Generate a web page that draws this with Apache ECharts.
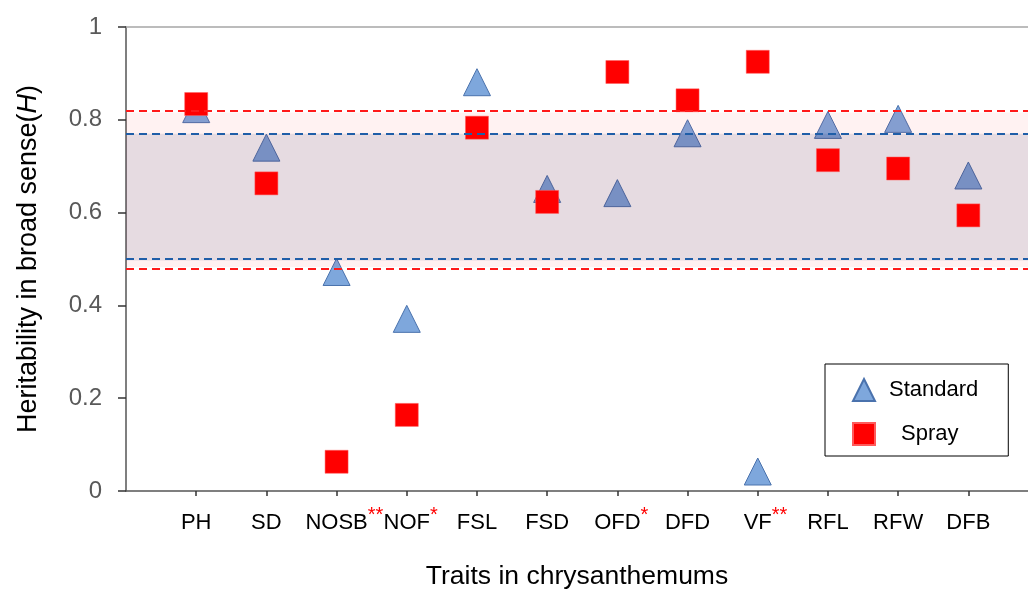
<!DOCTYPE html>
<html>
<head>
<meta charset="utf-8">
<script src="https://cdn.jsdelivr.net/npm/echarts@6/dist/echarts.min.js"></script>
<style>
html,body{margin:0;padding:0;background:#fff;}
#c{width:1028px;height:589px;}
</style>
</head>
<body>
<div id="c"></div>
<script>
const categories = ['PH','SD','NOSB','NOF','FSL','FSD','OFD','DFD','VF','RFL','RFW','DFB'];
const significance = ['','','**','*','','','*','','**','','',''];
const standardValues = [0.823, 0.740, 0.472, 0.371, 0.881, 0.651, 0.642, 0.771, 0.042, 0.789, 0.802, 0.680];
const sprayValues = [0.834, 0.663, 0.063, 0.164, 0.783, 0.623, 0.903, 0.842, 0.925, 0.713, 0.695, 0.594];
const standardRange = [0.497, 0.770];
const sprayRange = [0.483, 0.816];
const yTicks = [0, 0.2, 0.4, 0.6, 0.8, 1];

const FONT = '"Liberation Sans", Arial, sans-serif';
const chart = echarts.init(document.getElementById('c'), null, {renderer: 'canvas'});

const standardData = standardValues.map((v, i) => [i + 1, v]);
const sprayData = sprayValues.map((v, i) => [i + 1, v]);

const dashRed = {color: '#ff1a1a', width: 2, type: [8, 5]};
const dashBlue = {color: '#1f5ea8', width: 2, type: [8, 5]};

const option = {
  animation: false,
  backgroundColor: '#ffffff',
  textStyle: {fontFamily: FONT},
  grid: {left: 126, top: 27, right: 0, bottom: 98, containLabel: false, outerBoundsMode: 'none'},
  legend: {
    data: ['Standard', 'Spray'],
    orient: 'vertical',
    left: 825,
    top: 364,
    itemWidth: 22,
    itemHeight: 22,
    itemGap: 20,
    padding: [14, 30, 10, 27],
    borderColor: '#000',
    borderWidth: 1,
    formatter: function (name) {
      return name === 'Standard' ? '{a|' + name + '}' : '{b|' + name + '}';
    },
    textStyle: {
      fontFamily: FONT, fontSize: 22, color: '#000',
      rich: {
        a: {fontFamily: FONT, fontSize: 22, color: '#000', padding: [0, 0, 0, 9]},
        b: {fontFamily: FONT, fontSize: 22, color: '#000', padding: [0, 0, 0, 21]}
      }
    }
  },
  xAxis: [{
    type: 'value',
    min: 0,
    max: 12.85,
    interval: 1,
    name: 'Traits in chrysanthemums',
    nameLocation: 'middle',
    nameGap: 72,
    nameTextStyle: {fontFamily: FONT, fontSize: 26.5, color: '#000'},
    axisLine: {show: true, onZero: false, lineStyle: {color: '#555', width: 1.5}},
    axisTick: {show: true, length: 5, lineStyle: {color: '#333', width: 1.5}},
    splitLine: {show: false},
    axisLabel: {
      show: true,
      margin: 15,
      showMaxLabel: false,
      showMinLabel: false,
      formatter: function (v) {
        const k = Math.round(v);
        if (Math.abs(v - k) > 1e-6 || k < 1 || k > categories.length) return '';
        const name = categories[k - 1];
        const s = significance[k - 1];
        if (!s) return '{n|' + name + '}';
        return '{h|' + s + '}{n|' + name + '}{s|' + s + '}';
      },
      rich: {
        n: {fontFamily: FONT, fontSize: 22, color: '#000', lineHeight: 26, padding: [7, 0, 0, 0]},
        h: {fontFamily: FONT, fontSize: 20, color: 'rgba(0,0,0,0)', lineHeight: 26, padding: [0, 0, 7, 0]},
        s: {fontFamily: FONT, fontSize: 20, color: '#ff0000', lineHeight: 26, padding: [0, 0, 7, 0]}
      }
    }
  }, {
    type: 'value',
    position: 'top',
    min: 0,
    max: 12.85,
    axisLine: {show: true, onZero: false, lineStyle: {color: '#a6a6a6', width: 1.5}},
    axisTick: {show: false},
    axisLabel: {show: false},
    splitLine: {show: false}
  }],
  yAxis: {
    type: 'value',
    min: 0,
    max: 1,
    interval: 0.2,
    name: 'Heritability in broad sense({i|H})',
    nameLocation: 'middle',
    nameGap: 84,
    nameTextStyle: {
      fontFamily: FONT, fontSize: 27, color: '#000',
      rich: {i: {fontFamily: FONT, fontSize: 27, fontStyle: 'italic', color: '#000'}}
    },
    axisLine: {show: true, lineStyle: {color: '#555', width: 1.5}},
    axisTick: {show: true, length: 8, lineStyle: {color: '#333', width: 1.5}},
    splitLine: {show: false},
    axisLabel: {
      margin: 24,
      fontFamily: FONT,
      fontSize: 24,
      color: '#595959',
      formatter: function (v) {
        for (const t of yTicks) { if (Math.abs(v - t) < 1e-6) return String(t); }
        return '';
      }
    }
  },
  series: [
    {
      name: 'Standard',
      type: 'scatter',
      z: 2,
      symbol: 'triangle',
      symbolSize: 27,
      itemStyle: {color: '#7ea7dc', borderColor: '#4a72ad', borderWidth: 1, opacity: 1},
      data: standardData
    },
    {
      name: 'bands',
      type: 'scatter',
      z: 3,
      data: [],
      markArea: {
        silent: true,
        z: 3,
        data: [
          [{yAxis: sprayRange[0], itemStyle: {color: 'rgba(255,0,0,0.05)'}}, {yAxis: sprayRange[1]}],
          [{yAxis: standardRange[0], itemStyle: {color: 'rgba(30,40,90,0.11)'}}, {yAxis: standardRange[1]}]
        ]
      }
    },
    {
      name: 'Spray',
      type: 'scatter',
      z: 4,
      symbol: 'rect',
      symbolSize: 23,
      itemStyle: {color: '#ff0000', borderColor: '#ff5a5a', borderWidth: 0.5, opacity: 1},
      data: sprayData
    },
    {
      name: 'lines',
      type: 'scatter',
      z: 5,
      data: [],
      markLine: {
        silent: true,
        z: 5,
        symbol: ['none', 'none'],
        label: {show: false},
        data: [
          {yAxis: sprayRange[1], lineStyle: dashRed},
          {yAxis: standardRange[1], lineStyle: dashBlue},
          {yAxis: standardRange[0], lineStyle: dashBlue},
          {yAxis: sprayRange[0], lineStyle: dashRed}
        ]
      }
    }
  ]
};
chart.setOption(option);
</script>
</body>
</html>
